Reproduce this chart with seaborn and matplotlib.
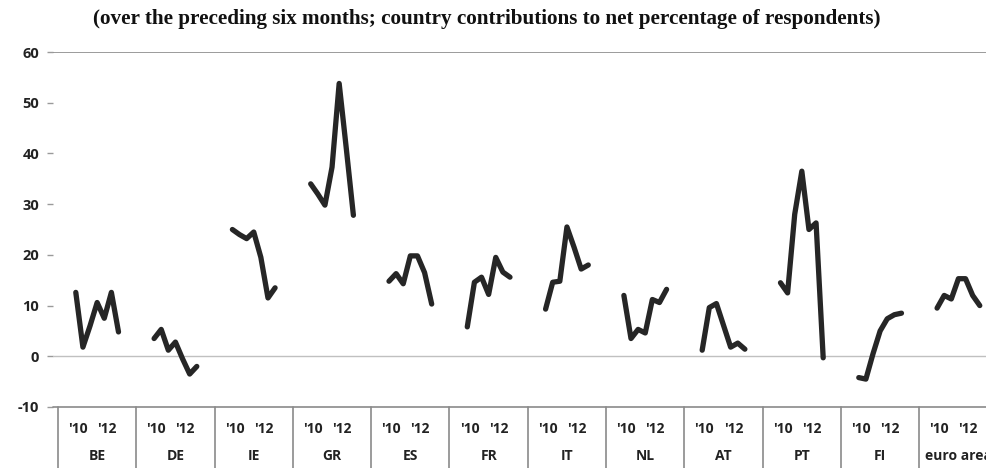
import numpy as np
import pandas as pd
import matplotlib
matplotlib.use("Agg")
import matplotlib.pyplot as plt
import matplotlib.transforms as mtransforms
import seaborn as sns

sns.set_theme(style="white")
plt.rcParams["font.family"] = ["Open Sans", "DejaVu Sans"]

# Countries and their survey readings (seven observations each, 2010-2013)
countries = ["BE", "DE", "IE", "GR", "ES", "FR", "IT", "NL", "AT", "PT", "FI", "euro area"]
be = [12.6, 1.8, 6.0, 10.6, 7.5, 12.6, 4.8]
de = [3.5, 5.3, 1.2, 2.8, -0.5, -3.5, -2.0]
ie = [25.0, 24.0, 23.2, 24.5, 19.5, 11.5, 13.5]
gr = [34.0, 32.0, 29.8, 37.3, 53.8, 41.0, 27.8]
es = [14.8, 16.3, 14.3, 19.8, 19.8, 16.5, 10.3]
fr = [5.8, 14.6, 15.6, 12.2, 19.5, 16.6, 15.6]
it = [9.3, 14.6, 14.8, 25.5, 21.5, 17.2, 18.0]
nl = [12.0, 3.5, 5.3, 4.6, 11.2, 10.6, 13.2]
at = [1.2, 9.6, 10.4, 6.1, 1.8, 2.6, 1.4]
pt = [14.5, 12.5, 28.0, 36.5, 25.0, 26.3, -0.3]
fi = [-4.2, -4.5, 0.5, 5.0, 7.4, 8.2, 8.5]
ea = [9.5, 12.0, 11.3, 15.3, 15.3, 12.0, 10.0]
series = [be, de, ie, gr, es, fr, it, nl, at, pt, fi, ea]
year_labels = ["'10", "'12"]
yticks = [-10, 0, 10, 20, 30, 40, 50, 60]

title = "(over the preceding six months; country contributions to net percentage of respondents)"

# Each country gets a block of 11 slots on the category axis
block = 11
first = 2.5
rows = []
for g, (c, vals) in enumerate(zip(countries, series)):
    for i, v in enumerate(vals):
        rows.append({"country": c, "x": g * block + first + i, "value": v})
df = pd.DataFrame(rows)

fig = plt.figure(figsize=(9.87, 4.68), dpi=100)
W, H = 987, 468
px_per_unit = 7.118
left_px = 53
x0 = -(58 - left_px) / px_per_unit
x1 = (W - 58) / px_per_unit
ax = fig.add_axes([left_px / W, 1 - 407 / H, 1 - left_px / W, (407 - 52) / H])

sns.lineplot(data=df, x="x", y="value", units="country", estimator=None,
             color="#262626", linewidth=3.8, ax=ax, sort=True,
             solid_joinstyle="round", solid_capstyle="round", legend=False)

ax.set_xlim(x0, x1)
ax.set_ylim(-10, 60)
for s in ax.spines.values():
    s.set_visible(False)

ax.axhline(60, color="#8a8a8a", lw=1.2, zorder=1)
ax.axhline(0, color="#c0c0c0", lw=1.0, zorder=1)
ax.axhline(-10, color="#8a8a8a", lw=1.2, zorder=1, clip_on=False)

ax.set_xticks([])
ax.set_yticks(yticks)
ax.set_yticklabels([str(t) for t in yticks], fontsize=10.5, fontweight="bold", color="#222222")
ax.tick_params(axis="y", length=4, width=1, color="#9a9a9a", pad=6, left=True)
ax.set_xlabel("")
ax.set_ylabel("")
ax.grid(False)

# Category table below the plot
trans = mtransforms.blended_transform_factory(ax.transData, ax.transData)
lab_kw = dict(ha="center", va="center", fontsize=10, fontweight="bold",
              color="#222222", clip_on=False)
for g, c in enumerate(countries):
    xs = g * block
    ax.plot([xs, xs], [-10, -23], color="#8a8a8a", lw=1.2, clip_on=False, transform=trans)
    ax.text(xs + 20 / px_per_unit, -14.3, year_labels[0], **lab_kw)
    ax.text(xs + 49 / px_per_unit, -14.3, year_labels[1], **lab_kw)
    ax.text(xs + block / 2, -19.6, c, **lab_kw)

fig.text(487 / W, 1 - 19 / H, title, ha="center", va="center",
         fontsize=15.2, fontweight="bold", family="Liberation Serif", color="#111111")

fig.savefig("out.png", dpi=100, facecolor="white")
